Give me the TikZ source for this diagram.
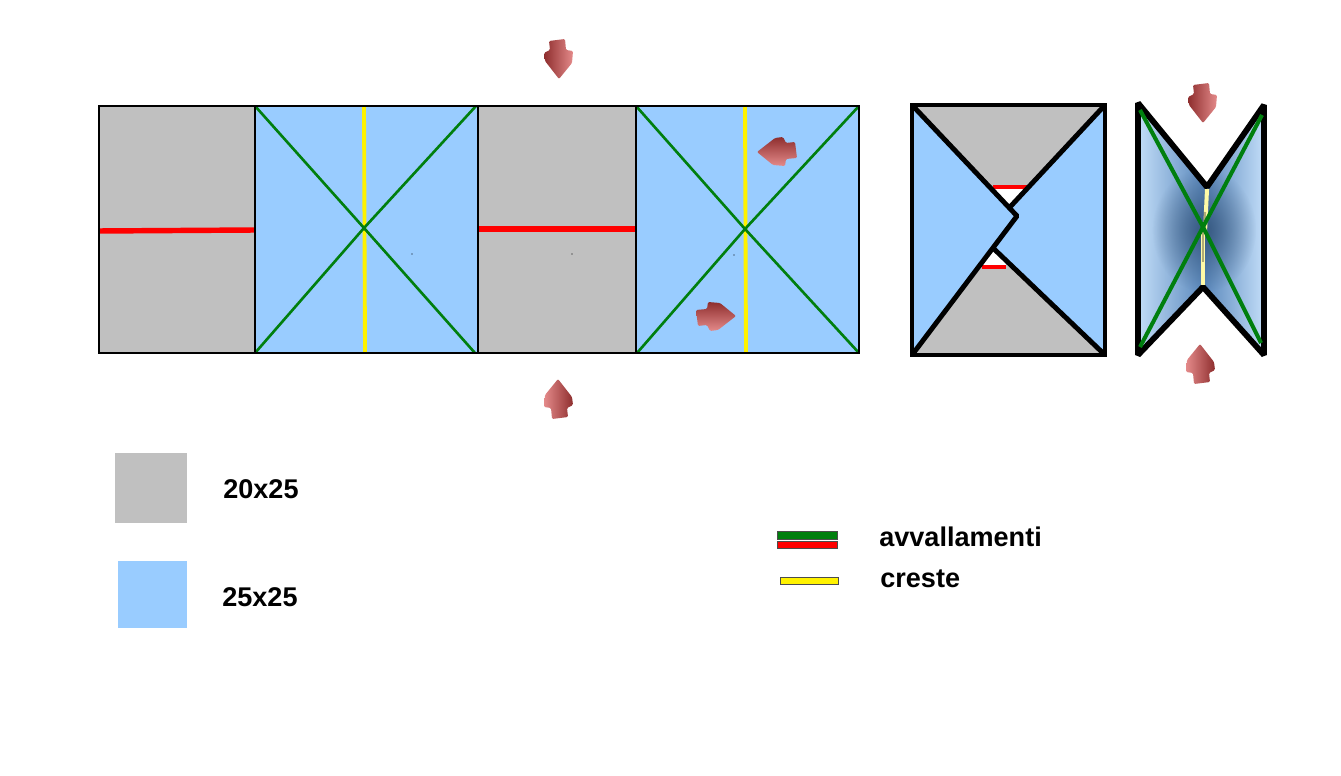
\documentclass[tikz,border=0pt]{standalone}
\usepackage{fontspec}
\setmainfont{Liberation Sans}
\usepackage{xcolor}
\usetikzlibrary{fadings}
\definecolor{panelgrey}{HTML}{C0C0C0}
\definecolor{panelblue}{HTML}{99CCFF}
\definecolor{foldgreen}{HTML}{007F0E}
\definecolor{pinchdark}{HTML}{8E2E2E}
\definecolor{pinchlight}{HTML}{E48A8A}
\definecolor{foldblue}{HTML}{5A88BC}
\definecolor{coreblue}{HTML}{2F4F75}
\definecolor{edgeblue}{HTML}{C2DDF8}
\tikzfading[name=corefade, inner color=transparent!15, outer color=transparent!100]

\begin{document}
\begin{tikzpicture}[
    x=0.02cm, y=-0.02cm,
    outline/.style={draw=black, line width=1.2pt},
    heavy/.style={draw=black, line width=2.8pt, line join=bevel},
    valley/.style={draw=foldgreen, line width=1.5pt},
    heavyvalley/.style={draw=foldgreen, line width=2.3pt},
    redfold/.style={draw=red, line width=3.1pt},
    ridge/.style={draw=yellow, line width=2.2pt},
    paleridge/.style={draw=yellow!35!white, line width=2.3pt},
    legendbar/.style={draw=black!70, line width=0.4pt},
    legendtext/.style={font=\bfseries\fontsize{15.4}{18}\selectfont, anchor=west, inner sep=0pt},
    pics/pinch/.style={code={
      \shade[top color=pinchdark, bottom color=pinchlight, shading angle=#1, rounded corners=0.7pt]
        (-10,-18) -- (6,-20) -- (7,-9) -- (14,-8) -- (13,4) -- (0,20) -- (-14,2) -- (-15,-6) -- (-9,-9) -- cycle;
    }}
  ]
    \useasboundingbox (0,0) rectangle (1341,776);

    \fill[panelgrey] (99,106) rectangle (255,353);
    \fill[panelblue] (255,106) rectangle (478,353);
    \fill[panelgrey] (478,106) rectangle (636,353);
    \fill[panelblue] (636,106) rectangle (859,353);
    \draw[redfold] (99,231) -- (255,230);
    \draw[redfold] (478,229) -- (636,229);
    \draw[ridge] (364,106) -- (365,353);
    \draw[ridge] (745,106) -- (746,353);
    \draw[valley] (255,106) -- (364,228) -- (475,353);
    \draw[valley] (476,106) -- (364,228) -- (255,353);
    \draw[valley] (636,106) -- (745,229) -- (859,353);
    \draw[valley] (859,106) -- (745,229) -- (637,353);
    \draw[outline] (99,106) rectangle (859,353);
    \draw[outline] (255,106) -- (255,353);
    \draw[outline] (478,106) -- (478,353);
    \draw[outline] (636,106) -- (636,353);
    \fill (412,254) circle (0.6);
    \fill (572,254) circle (0.6);
    \fill (734,255) circle (0.6);

    \fill[panelgrey] (912,105) -- (1105,105) -- (1010,207) -- (1017,216) -- (993,248) -- (1105,355) -- (912,355) -- cycle;
    \fill[white] (993,187) -- (1029,187) -- (1010,207) -- cycle;
    \fill[white] (993,248) -- (982,267) -- (1006,267) -- (1006,260) -- cycle;
    \fill[panelblue] (912,105) -- (1017,216) -- (912,355) -- cycle;
    \fill[panelblue] (1105,105) -- (1010,207) -- (1017,216) -- (993,248) -- (1105,355) -- cycle;
    \draw[redfold, line width=2.4pt] (993,187) -- (1027,187);
    \draw[redfold, line width=2.4pt] (982,267) -- (1006,267);
    \draw[heavy] (912,105) -- (1017,216) -- (912,355);
    \draw[heavy] (1105,105) -- (1010,207);
    \draw[heavy] (993,248) -- (1105,355);
    \draw[heavy, line join=miter] (912,355) rectangle (1105,105);

    \begin{scope}
      \clip (1138,103) -- (1207,187) -- (1264,105) -- (1264,355) -- (1203,287) -- (1138,355) -- cycle;
      \shade[left color=edgeblue, right color=foldblue] (1138,103) rectangle (1204,355);
      \shade[left color=foldblue, right color=edgeblue] (1204,103) rectangle (1264,355);
      \fill[coreblue, path fading=corefade] (1204,230) ellipse (52 and 62);
    \end{scope}
    \draw[paleridge] (1207,189) -- (1205,232);
    \draw[paleridge] (1203,232) -- (1203,286);
    \draw[draw=yellow!30!black, line width=1.2pt, opacity=0.5] (1205,212) -- (1204,230);
    \draw[draw=yellow!30!black, line width=0.6pt, opacity=0.5] (1203,232) -- (1203,262);
    \draw[heavy, line width=3.3pt] (1138,355) -- (1138,103) -- (1207,187) -- (1264,105) -- (1264,355) -- (1203,287) -- cycle;
    \draw[heavyvalley] (1140,110) -- (1203,227) -- (1261,343);
    \draw[heavyvalley] (1262,115) -- (1203,227) -- (1140,347);

    \pic at (559,59) {pinch=90};
    \pic[rotate=180] at (558,399) {pinch=-90};
    \pic[rotate=-90] at (777,152) {pinch=0};
    \pic[rotate=90] at (716,316) {pinch=0};
    \pic at (1203,103) {pinch=90};
    \pic[rotate=180] at (1200,364) {pinch=-90};

    \fill[panelgrey] (115,453) rectangle (187,523);
    \node[legendtext] (label2025) at (223,489) {20x25};
    \fill[panelblue] (118,561) rectangle (187,628);
    \node[legendtext] (label2525) at (222,597) {25x25};

    \draw[legendbar, fill=foldgreen] (777,531) rectangle (837,539);
    \draw[legendbar, fill=red] (777,541) rectangle (837,548);
    \node[legendtext] (valleys) at (879,537) {avvallamenti};
    \draw[legendbar, fill=yellow] (780,577) rectangle (838,584);
    \node[legendtext] (ridges) at (880,579) {creste};
  \end{tikzpicture}
\end{document}
